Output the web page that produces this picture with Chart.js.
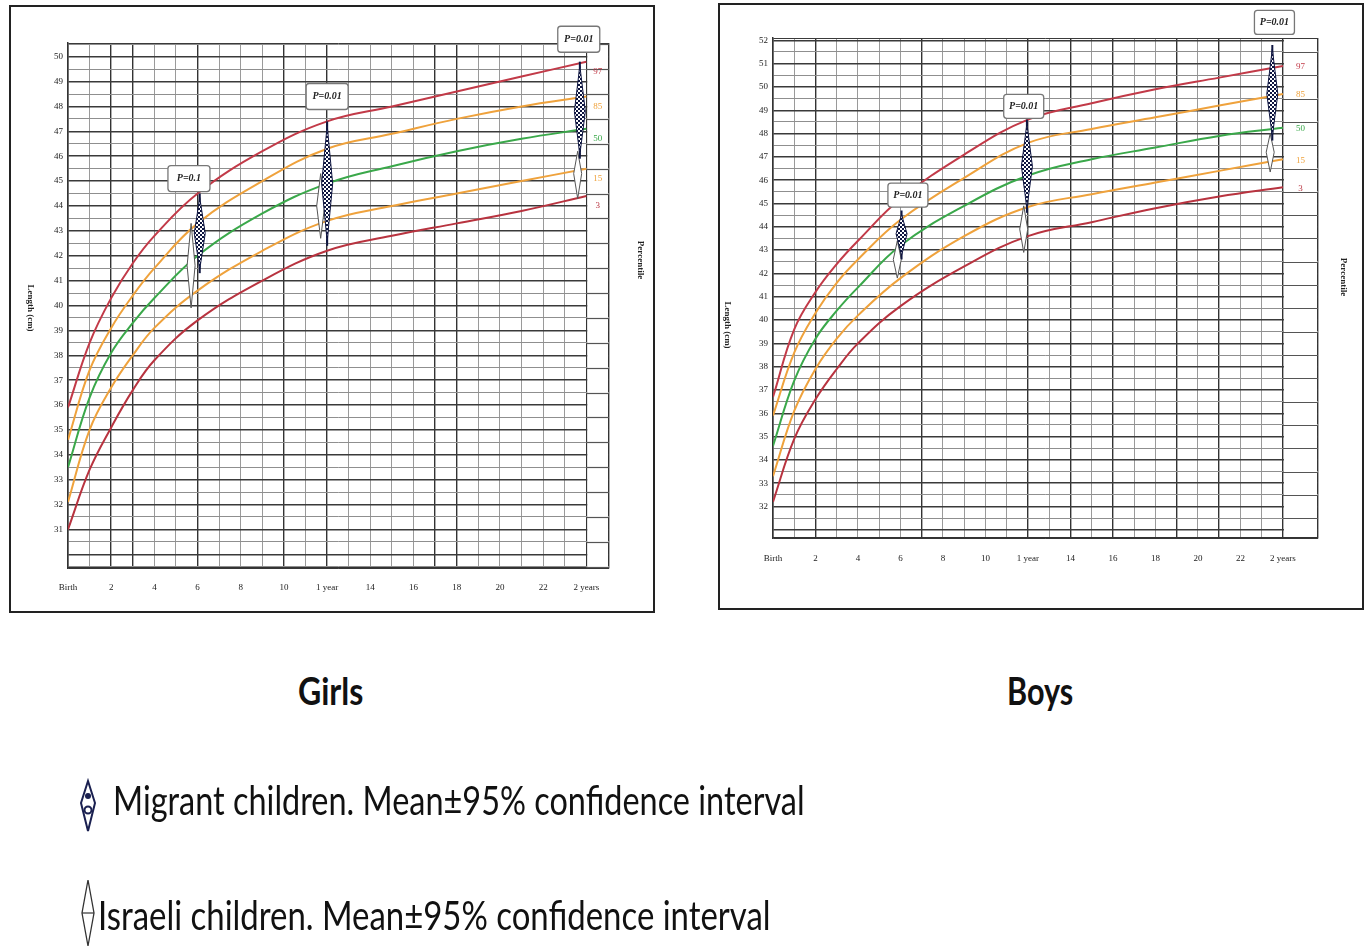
<!DOCTYPE html>
<html>
<head>
<meta charset="utf-8">
<script src="https://cdn.jsdelivr.net/npm/chart.js@4.4.1/dist/chart.umd.min.js"></script>
<style>
  body { margin: 0; background: #fff; width: 1366px; height: 949px; position: relative; overflow: hidden; font-family: Lato, 'Open Sans', sans-serif; }
  .frame { position: absolute; border: 2px solid #222; box-sizing: border-box; }
  canvas { position: absolute; }
  .txt { position: absolute; white-space: nowrap; transform-origin: 0 50%; color: #111; }
</style>
</head>
<body>
<div class="frame" style="left:9px;top:5px;width:646px;height:608px"></div>
<div class="frame" style="left:718px;top:3px;width:646px;height:607px"></div>
<canvas id="chartGirls" width="683" height="640" style="left:0;top:0"></canvas>
<canvas id="chartBoys" width="666" height="640" style="left:700px;top:0"></canvas>

<div class="txt fit" data-w="65" style="left:298px;top:668px;font-size:38px;line-height:44px;font-weight:700">Girls</div>
<div class="txt fit" data-w="66" style="left:1007px;top:668px;font-size:38px;line-height:44px;font-weight:700">Boys</div>

<svg style="position:absolute;left:0;top:0" width="140" height="949">
  <path d="M88 781 L95 803 L88 831 L81 803 Z" fill="#fff" stroke="#1a2050" stroke-width="2"/>
  <circle cx="88" cy="796" r="3" fill="#1a2050"/>
  <circle cx="88" cy="810" r="3.5" fill="none" stroke="#1a2050" stroke-width="2"/>
  <path d="M88 880 L94 913 L88 946 L82 913 Z" fill="#fff" stroke="#333" stroke-width="1.3"/>
  <line x1="82" y1="913" x2="94" y2="913" stroke="#333" stroke-width="1.2"/>
</svg>
<div class="txt fit" data-w="692" style="left:113px;top:777px;font-size:40px;line-height:46px">Migrant children. Mean±95% confidence interval</div>
<div class="txt fit" data-w="672" style="left:98px;top:892px;font-size:40px;line-height:46px">Israeli children. Mean±95% confidence interval</div>

<script>
// ages in months where the percentile curves were read
const months = [0, 1, 2, 3, 4, 6, 9, 12, 15, 18, 21, 24];
const percentiles = ['97', '85', '50', '15', '3'];

const girlsP97 = [35.9, 38.5, 40.3, 41.7, 42.8, 44.5, 46.2, 47.4, 48.0, 48.6, 49.2, 49.8];
const girlsP85 = [34.6, 37.4, 39.1, 40.4, 41.5, 43.3, 45.0, 46.3, 46.9, 47.5, 48.0, 48.4];
const girlsP50 = [33.5, 36.3, 38.1, 39.3, 40.3, 42.0, 43.7, 44.9, 45.6, 46.2, 46.7, 47.1];
const girlsP15 = [32.1, 35.0, 36.7, 38.0, 39.1, 40.6, 42.2, 43.4, 44.0, 44.5, 45.0, 45.5];
const girlsP3  = [31.0, 33.4, 35.1, 36.6, 37.8, 39.4, 41.0, 42.2, 42.8, 43.3, 43.8, 44.4];

const boysP97 = [36.7, 39.6, 41.2, 42.4, 43.4, 45.2, 47.1, 48.6, 49.3, 49.9, 50.4, 50.9];
const boysP85 = [35.9, 38.6, 40.3, 41.6, 42.6, 44.3, 46.1, 47.6, 48.2, 48.7, 49.2, 49.7];
const boysP50 = [34.6, 37.4, 39.2, 40.4, 41.4, 43.2, 44.9, 46.2, 46.9, 47.4, 47.9, 48.25];
const boysP15 = [33.3, 36.1, 37.9, 39.2, 40.2, 41.8, 43.6, 44.85, 45.4, 45.9, 46.4, 46.9];
const boysP3  = [32.2, 34.9, 36.6, 37.9, 39.0, 40.6, 42.3, 43.6, 44.2, 44.8, 45.3, 45.7];

// mean ± 95% CI markers
const girlsMigrantAge  = [6.1, 12.0, 23.7];
const girlsMigrantLow  = [41.3, 42.4, 45.9];
const girlsMigrantMean = [42.9, 44.9, 47.8];
const girlsMigrantHigh = [44.5, 47.4, 49.8];
const girlsIsraeliAge  = [5.7, 11.7, 23.6];
const girlsIsraeliLow  = [39.9, 42.7, 44.3];
const girlsIsraeliMean = [41.6, 44.0, 45.3];
const girlsIsraeliHigh = [43.3, 45.3, 46.2];

const boysMigrantAge  = [6.05, 11.95, 23.5];
const boysMigrantLow  = [42.6, 44.6, 47.7];
const boysMigrantMean = [43.7, 46.6, 49.7];
const boysMigrantHigh = [44.7, 48.6, 51.8];
const boysIsraeliAge  = [5.85, 11.8, 23.4];
const boysIsraeliLow  = [41.8, 42.9, 46.35];
const boysIsraeliMean = [42.6, 43.9, 47.2];
const boysIsraeliHigh = [43.4, 44.9, 48.0];

// p-value boxes
const girlsPText  = ['P=0.1', 'P=0.01', 'P=0.01'];
const girlsPAge   = [5.6, 12.0, 23.65];
const girlsPLevel = [45.1, 48.4, 50.7];
const boysPText   = ['P=0.01', 'P=0.01', 'P=0.01'];
const boysPAge    = [6.35, 11.8, 23.6];
const boysPLevel  = [45.36, 49.17, 52.77];

const xTickMonths = [0, 2, 4, 6, 8, 10, 12, 14, 16, 18, 20, 22, 24];
const xTickLabels = ['Birth', '2', '4', '6', '8', '10', '1 year', '14', '16', '18', '20', '22', '2 years'];

const curveColors = ['#c23a48', '#efa23c', '#3aa84a', '#efa23c', '#b8333f'];
const serif = '"Liberation Serif", "DejaVu Serif", serif';

let checker = null;
function getChecker(ctx) {
  if (checker) return checker;
  const tile = document.createElement('canvas');
  tile.width = tile.height = 4;
  const t = tile.getContext('2d');
  t.fillStyle = '#0e1540'; t.fillRect(0, 0, 4, 4);
  t.fillStyle = '#fff'; t.fillRect(0, 0, 2, 2); t.fillRect(2, 2, 2, 2);
  checker = ctx.createPattern(tile, 'repeat');
  return checker;
}

function diamond(ctx, x, yTop, yMid, yBot, w, fill, stroke, lw) {
  ctx.beginPath();
  ctx.moveTo(x, yTop); ctx.lineTo(x + w / 2, yMid); ctx.lineTo(x, yBot); ctx.lineTo(x - w / 2, yMid);
  ctx.closePath();
  ctx.fillStyle = fill; ctx.fill();
  ctx.strokeStyle = stroke; ctx.lineWidth = lw; ctx.stroke();
}

const growthOverlay = {
  id: 'growthOverlay',
  beforeDatasetsDraw(chart, args, o) {
    const { ctx, chartArea: a, scales: { x, y } } = chart;
    const x24 = x.getPixelForValue(24);
    ctx.save();
    ctx.fillStyle = '#fff';
    ctx.fillRect(x24 + 1, a.top + 1, a.right - x24 - 2, a.bottom - a.top - 2);
    ctx.strokeStyle = '#555'; ctx.lineWidth = 1.2;
    y.ticks.forEach(t => {
      if (Math.abs(t.value % 1 - 0.5) > 1e-6) return;
      const py = Math.round(y.getPixelForValue(t.value)) + 0.5;
      ctx.beginPath(); ctx.moveTo(x24, py); ctx.lineTo(a.right, py); ctx.stroke();
    });
    ctx.restore();
  },
  afterDatasetsDraw(chart, args, o) {
    const { ctx, chartArea: a, scales: { x, y } } = chart;
    ctx.save();
    // Israeli children (white diamonds), then migrant (checkered)
    o.israeliAge.forEach((m, i) => {
      const px = x.getPixelForValue(m);
      diamond(ctx, px, y.getPixelForValue(o.israeliHigh[i]), y.getPixelForValue(o.israeliMean[i]), y.getPixelForValue(o.israeliLow[i]), 8, '#fff', '#555', 1);
    });
    const pat = getChecker(ctx);
    o.migrantAge.forEach((m, i) => {
      const px = x.getPixelForValue(m);
      const yt = y.getPixelForValue(o.migrantHigh[i]), yb = y.getPixelForValue(o.migrantLow[i]);
      ctx.strokeStyle = '#0e1540'; ctx.lineWidth = 2;
      ctx.beginPath(); ctx.moveTo(px, yt); ctx.lineTo(px, yb); ctx.stroke();
      diamond(ctx, px, yt + 4, y.getPixelForValue(o.migrantMean[i]), yb - 4, 11, pat, '#0e1540', 1);
    });
    // p-value boxes
    ctx.font = 'italic bold 10px ' + serif;
    ctx.textAlign = 'center'; ctx.textBaseline = 'middle';
    o.pText.forEach((txt, i) => {
      const cx = x.getPixelForValue(o.pAge[i]), cy = y.getPixelForValue(o.pLevel[i]);
      const w = o.boxW, h = o.boxH;
      ctx.beginPath(); ctx.roundRect(cx - w / 2, cy - h / 2, w, h, 3);
      ctx.fillStyle = '#fff'; ctx.fill();
      ctx.strokeStyle = '#777'; ctx.lineWidth = 1.3; ctx.stroke();
      ctx.fillStyle = '#222'; ctx.fillText(txt, cx, cy);
    });
    // percentile labels in the right column
    const colX = (x.getPixelForValue(24) + a.right) / 2;
    ctx.font = '9px ' + serif;
    chart.data.datasets.forEach((ds, i) => {
      const last = ds.data[ds.data.length - 1].y;
      ctx.fillStyle = curveColors[i];
      ctx.fillText(percentiles[i], colX, y.getPixelForValue(last) + o.labelShift);
    });
    ctx.restore();
  },
  afterDraw(chart, args, o) {
    const { ctx } = chart;
    ctx.save();
    ctx.font = 'bold 9px ' + serif;
    ctx.fillStyle = '#222'; ctx.textAlign = 'center'; ctx.textBaseline = 'middle';
    [[o.lenTitle, 'Length (cm)'], [o.pctTitle, 'Percentile']].forEach(([pos, label]) => {
      ctx.save();
      ctx.translate(pos[0], pos[1]);
      ctx.rotate(Math.PI / 2);
      ctx.fillText(label, 0, 0);
      ctx.restore();
    });
    ctx.restore();
  }
};

function buildGrowthChart(id, cfg) {
  const series = [cfg.p97, cfg.p85, cfg.p50, cfg.p15, cfg.p3];
  return new Chart(document.getElementById(id), {
    type: 'line',
    data: {
      datasets: series.map((vals, i) => ({
        label: percentiles[i],
        data: months.map((m, k) => ({ x: m, y: vals[k] })),
        borderColor: curveColors[i], borderWidth: 2, pointRadius: 0,
        tension: 0.4, fill: false
      }))
    },
    options: {
      responsive: false, animation: false, events: [],
      layout: { padding: cfg.padding },
      plugins: {
        legend: { display: false }, tooltip: { enabled: false },
        growthOverlay: cfg.overlay
      },
      scales: {
        x: {
          type: 'linear', min: 0, max: cfg.xMax,
          afterBuildTicks: s => {
            const t = [];
            for (let m = 0; m <= 24; m++) t.push({ value: m });
            t.push({ value: cfg.xMax });
            s.ticks = t;
          },
          afterFit: s => { s.height = 30; },
          grid: {
            drawTicks: false,
            color: c => (c.tick && (cfg.darkMonths.includes(c.tick.value) || c.tick.value === cfg.xMax)) ? '#333' : '#9a9a9a',
            lineWidth: c => (c.tick && (cfg.darkMonths.includes(c.tick.value) || c.tick.value === cfg.xMax)) ? 1.4 : 1
          },
          border: { color: '#333', width: 1.5 },
          ticks: {
            autoSkip: false, maxRotation: 0, padding: cfg.xPad, color: '#222',
            font: { family: serif, size: 9 },
            callback: v => { const k = xTickMonths.indexOf(v); return k >= 0 ? xTickLabels[k] : ''; }
          }
        },
        y: {
          type: 'linear', min: cfg.yMin, max: cfg.yMax,
          afterBuildTicks: s => {
            const t = [{ value: cfg.yMin }];
            for (let v = Math.ceil(cfg.yMin * 2) / 2; v < cfg.yMax; v += 0.5) t.push({ value: v });
            t.push({ value: cfg.yMax });
            s.ticks = t;
          },
          afterFit: s => { s.width = 30; },
          grid: {
            drawTicks: false,
            color: c => (c.tick && (Number.isInteger(c.tick.value) || c.tick.value === cfg.yMax || c.tick.value === cfg.yMin)) ? '#3a3a3a' : '#8f8f8f',
            lineWidth: c => (c.tick && Number.isInteger(c.tick.value)) ? 1.5 : 1
          },
          border: { color: '#333', width: 1.5 },
          ticks: {
            autoSkip: false, padding: 5, color: '#222',
            font: { family: serif, size: 9 },
            callback: v => (Number.isInteger(v) && v >= cfg.yFirstLabel) ? String(v) : ''
          }
        }
      }
    },
    plugins: [growthOverlay]
  });
}

buildGrowthChart('chartGirls', {
  p97: girlsP97, p85: girlsP85, p50: girlsP50, p15: girlsP15, p3: girlsP3,
  padding: { left: 38, top: 43, right: 74, bottom: 42 },
  xMax: 25.05, yMin: 29.45, yMax: 50.55, yFirstLabel: 31, xPad: 14,
  darkMonths: [0, 2, 3, 6, 10, 12, 17, 18, 24],
  overlay: {
    migrantAge: girlsMigrantAge, migrantLow: girlsMigrantLow, migrantMean: girlsMigrantMean, migrantHigh: girlsMigrantHigh,
    israeliAge: girlsIsraeliAge, israeliLow: girlsIsraeliLow, israeliMean: girlsIsraeliMean, israeliHigh: girlsIsraeliHigh,
    pText: girlsPText, pAge: girlsPAge, pLevel: girlsPLevel, boxW: 42, boxH: 26,
    labelShift: 10, lenTitle: [30, 308], pctTitle: [640, 260]
  }
});

buildGrowthChart('chartBoys', {
  p97: boysP97, p85: boysP85, p50: boysP50, p15: boysP15, p3: boysP3,
  padding: { left: 43, top: 38, right: 48, bottom: 72 },
  xMax: 25.65, yMin: 30.65, yMax: 52.1, yFirstLabel: 32, xPad: 15,
  darkMonths: [0, 2, 7, 12, 14, 16, 19, 21, 24],
  overlay: {
    migrantAge: boysMigrantAge, migrantLow: boysMigrantLow, migrantMean: boysMigrantMean, migrantHigh: boysMigrantHigh,
    israeliAge: boysIsraeliAge, israeliLow: boysIsraeliLow, israeliMean: boysIsraeliMean, israeliHigh: boysIsraeliHigh,
    pText: boysPText, pAge: boysPAge, pLevel: boysPLevel, boxW: 40, boxH: 24,
    labelShift: 1, lenTitle: [27, 325], pctTitle: [643, 277]
  }
});

// squeeze the caption texts to the widths seen in the figure
document.querySelectorAll('.fit').forEach(el => {
  const target = parseFloat(el.dataset.w);
  el.style.transform = 'scaleX(' + (target / el.offsetWidth).toFixed(3) + ')';
});
</script>
</body>
</html>
